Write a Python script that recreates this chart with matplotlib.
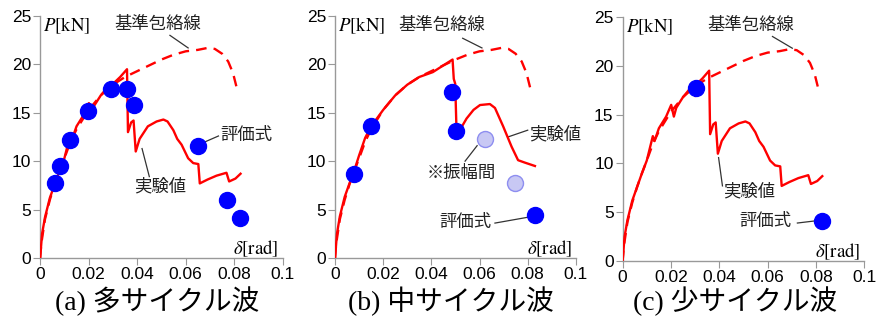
import matplotlib
matplotlib.use("Agg")
import matplotlib.pyplot as plt

plt.rcParams['mathtext.fontset'] = 'stix'
plt.rcParams['font.family'] = ['Liberation Sans', 'Noto Sans CJK JP']

# reference envelope (基準包絡線)
env_d = [0, 0.0005, 0.002, 0.004, 0.006, 0.008, 0.010, 0.0125, 0.015, 0.020, 0.025,
         0.030, 0.035, 0.040, 0.045, 0.050, 0.055, 0.060, 0.065, 0.069, 0.072,
         0.075, 0.0775, 0.0795, 0.081]
env_p = [0, 1.5, 4.0, 6.0, 7.6, 9.0, 10.3, 12.0, 13.3, 15.3, 16.8,
         17.9, 18.7, 19.3, 19.9, 20.5, 21.0, 21.35, 21.5, 21.7, 21.6,
         21.1, 20.3, 19.1, 17.6]

# experiment (実験値), multi-cycle and few-cycle waves
exp_ac_d = [0, 0.0008, 0.002, 0.004, 0.006, 0.008, 0.010, 0.0125, 0.0132, 0.015,
            0.018, 0.0201, 0.0212, 0.0222, 0.025, 0.028, 0.0298, 0.0300, 0.0305,
            0.033, 0.0358, 0.0362, 0.0375, 0.0385, 0.0394, 0.041, 0.0444, 0.048,
            0.0508, 0.0525, 0.0549, 0.0565, 0.0583, 0.061, 0.0631, 0.0652, 0.0658,
            0.069, 0.0727, 0.0768, 0.0779, 0.0805, 0.0826]
exp_ac_p = [0, 2.5, 4.2, 6.2, 7.6, 9.0, 10.3, 12.8, 12.3, 13.6,
            14.8, 16.0, 14.8, 15.7, 16.8, 17.7, 18.0, 16.9, 18.1,
            18.7, 19.5, 13.0, 14.0, 14.2, 11.0, 12.3, 13.6, 14.1,
            14.3, 14.1, 13.2, 12.3, 11.7, 10.3, 9.8, 9.7, 7.7,
            8.1, 8.5, 8.8, 7.9, 8.2, 8.7]

# experiment, medium-cycle wave
exp_b_d = [0, 0.0008, 0.002, 0.004, 0.006, 0.0077, 0.010, 0.0125, 0.015, 0.020,
           0.025, 0.030, 0.035, 0.0406, 0.045, 0.0488, 0.0493, 0.0499, 0.0505,
           0.0512, 0.0525, 0.0546, 0.0575, 0.0602, 0.0643, 0.0664, 0.0698,
           0.0733, 0.076, 0.0788, 0.083]
exp_b_p = [0, 2.5, 4.3, 6.3, 7.7, 8.8, 10.6, 12.4, 13.6, 15.3,
           16.8, 17.9, 18.7, 19.2, 19.9, 20.5, 18.5, 18.0, 12.6,
           12.5, 13.5, 14.4, 15.3, 15.8, 15.9, 15.5, 13.6,
           11.5, 10.1, 9.85, 9.5]

# evaluation formula (評価式)
eval_a_d = [0.0063, 0.0081, 0.0125, 0.0198, 0.0293, 0.0360, 0.0387, 0.0652, 0.0771, 0.0823]
eval_a_p = [7.7, 9.5, 12.2, 15.2, 17.5, 17.5, 15.8, 11.6, 6.0, 4.1]
eval_b_d = [0.0077, 0.0150, 0.0485, 0.0503, 0.0830]
eval_b_p = [8.7, 13.6, 17.1, 13.1, 4.4]
amp_b_d = [0.0622, 0.0747]   # ※振幅間
amp_b_p = [12.3, 7.7]
eval_c_d = [0.0302, 0.0826]
eval_c_p = [17.7, 4.1]

captions = ['(a) 多サイクル波', '(b) 中サイクル波', '(c) 少サイクル波']

red = '#ff0000'
blue = '#0000ff'
jp = ['Noto Sans CJK JP']
lead = dict(color='#333333', lw=0.9)

fig = plt.figure(figsize=(8.92, 3.2), dpi=100)
ax_a = fig.add_axes([0.045, 0.194, 0.272, 0.756])
ax_b = fig.add_axes([0.3756, 0.194, 0.270, 0.756])
ax_c = fig.add_axes([0.698, 0.184, 0.271, 0.763])


def setup(ax):
    ax.set_xlim(0, 0.1)
    ax.set_ylim(0, 25)
    ax.set_xticks([0, 0.02, 0.04, 0.06, 0.08, 0.1])
    ax.set_xticklabels(['0', '0.02', '0.04', '0.06', '0.08', '0.1'])
    ax.set_yticks([0, 5, 10, 15, 20, 25])
    for s in ['top', 'right']:
        ax.spines[s].set_visible(False)
    for s in ['left', 'bottom']:
        ax.spines[s].set_color('#999999')
        ax.spines[s].set_linewidth(1.0)
    ax.tick_params(direction='out', length=5, color='#999999', labelsize=12.5,
                   labelcolor='black', pad=1.5)
    ax.text(0.011, 24.0, '$P$[kN]', fontsize=13.5, ha='center', va='center',
            family='STIXGeneral')
    ax.text(0.089, 0.95, r'$\delta$[rad]', fontsize=13.5, ha='center', va='center',
            family='STIXGeneral')
    ax.plot(env_d, env_p, color=red, lw=1.7, ls=(0, (4.5, 3)), zorder=2)


def note(ax, txt, tx, ty, x0, y0, x1, y1):
    ax.text(tx, ty, txt, fontsize=12.5, family=jp, ha='center', va='center',
            color='#222222')
    ax.plot([x0, x1], [y0, y1], **lead, zorder=1)


# (a)
setup(ax_a)
ax_a.plot(exp_ac_d, exp_ac_p, color=red, lw=1.7, zorder=3)
ax_a.plot(eval_a_d, eval_a_p, 'o', color=blue, ms=11.5, mec=blue, zorder=4)
note(ax_a, '基準包絡線', 0.0486, 24.2, 0.0535, 23.0, 0.061, 21.7)
note(ax_a, '評価式', 0.085, 12.7, 0.068, 12.0, 0.0735, 12.6)
note(ax_a, '実験値', 0.0494, 7.4, 0.042, 11.3, 0.045, 8.4)

# (b)
setup(ax_b)
ax_b.plot(exp_b_d, exp_b_p, color=red, lw=1.7, zorder=3)
ax_b.plot(eval_b_d, eval_b_p, 'o', color=blue, ms=11.5, mec=blue, zorder=4)
ax_b.plot(amp_b_d, amp_b_p, 'o', color='#c8c8f4', ms=11.5, mec='#8e8ef0',
          mew=1.0, zorder=4)
note(ax_b, '基準包絡線', 0.0444, 24.1, 0.053, 22.7, 0.061, 21.7)
note(ax_b, '実験値', 0.0913, 12.8, 0.0718, 12.5, 0.080, 13.2)
note(ax_b, '※振幅間', 0.0523, 8.8, 0.059, 11.6, 0.054, 10.0)
note(ax_b, '評価式', 0.054, 3.7, 0.0664, 3.6, 0.080, 4.2)

# (c)
setup(ax_c)
ax_c.plot(exp_ac_d, exp_ac_p, color=red, lw=1.7, zorder=3)
ax_c.plot(eval_c_d, eval_c_p, 'o', color=blue, ms=11.5, mec=blue, zorder=4)
note(ax_c, '基準包絡線', 0.0529, 24.2, 0.062, 23.0, 0.0702, 21.8)
note(ax_c, '実験値', 0.0525, 7.1, 0.0397, 10.6, 0.0413, 7.7)
note(ax_c, '評価式', 0.059, 4.1, 0.0723, 3.9, 0.079, 4.1)

for x, cap in zip([0.176, 0.506, 0.824], captions):
    fig.text(x, 0.058, cap, fontsize=20, ha='center', va='center',
             family=['Liberation Serif', 'Noto Sans CJK JP'])

fig.savefig('out.png', dpi=100)
